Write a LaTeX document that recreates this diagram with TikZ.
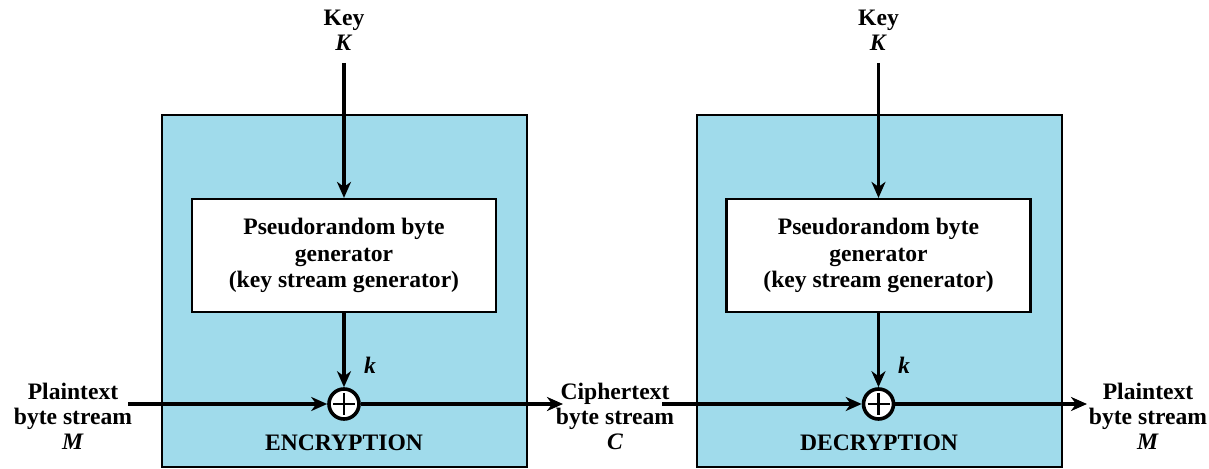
\documentclass[tikz,border=0pt]{standalone}
\usepackage{fontspec}
\setmainfont{Liberation Serif}
\usetikzlibrary{arrows.meta}
\definecolor{boxblue}{HTML}{A0DBEB}
\begin{document}
\begin{tikzpicture}[x=0.5pt,y=-0.5pt,
  lbl/.style={font=\bfseries\fontsize{11.8}{12.5}\selectfont, align=center, inner sep=0pt},
  panel/.style={draw=black, line width=1.1pt, fill=boxblue, minimum width=182.5pt, minimum height=176pt, inner sep=0pt},
  genbox/.style={draw=black, line width=1.1pt, fill=white, minimum width=152pt, minimum height=56.5pt, inner sep=0pt, align=center, font=\bfseries\fontsize{11.8}{13.2}\selectfont},
  flow/.style={line width=1.9pt, -{Stealth[length=8pt,width=7pt,inset=2.5pt]}},
  xorc/.style={circle, draw=black, line width=1.8pt, fill=white, minimum size=15pt, inner sep=0pt},
  plus/.style={line width=1.3pt}]
\useasboundingbox (0,0) rectangle (1209,469);

% panels
\node[panel] (enc) at (344.5,291) {};
\node[panel] (dec) at (879.5,291) {};

% generators
\node[genbox] (gen1) at (344,255.5) {Pseudorandom byte\\generator\\(key stream generator)};
\node[genbox] (gen2) at (878.5,255.5) {Pseudorandom byte\\generator\\(key stream generator)};

% xor circles
\node[xorc] (xor1) at (344,404) {};
\node[xorc] (xor2) at (878.5,404) {};
\foreach \n in {xor1,xor2}{
  \draw[plus] ([yshift=5.5pt]\n.center) -- ([yshift=-5.5pt]\n.center);
  \draw[plus] ([xshift=-5.5pt]\n.center) -- ([xshift=5.5pt]\n.center);
}

% key labels
\node[lbl] (key1) at (344,30) {Key\\\textit{K}};
\node[lbl] (key2) at (878.5,30) {Key\\\textit{K}};
\coordinate (k1s) at (344,63);
\coordinate (k2s) at (878.5,63);
\draw[flow] (k1s) -- (gen1.north);
\draw[flow] (k2s) -- (gen2.north);

% k labels
\node[lbl] (ks1) at (370,365) {\textit{k}};
\node[lbl] (ks2) at (904,365) {\textit{k}};
\draw[flow] (gen1.south) -- (xor1.north);
\draw[flow] (gen2.south) -- (xor2.north);

% stream labels
\node[lbl] (pin) at (73,416) {Plaintext\\byte stream\\\textit{M}};
\node[lbl] (cip) at (615,416) {Ciphertext\\byte stream\\\textit{C}};
\node[lbl] (pout) at (1148,416) {Plaintext\\byte stream\\\textit{M}};

\coordinate (pinE) at (128,404);
\coordinate (cipW) at (563,404);
\coordinate (cipE) at (662,404);
\coordinate (poutW) at (1087,404);
\draw[flow] (pinE) -- (xor1.west);
\draw[flow] (xor1.east) -- (cipW);
\draw[flow] (cipE) -- (xor2.west);
\draw[flow] (xor2.east) -- (poutW);

% panel titles
\node[lbl] (encl) at (344,443) {ENCRYPTION};
\node[lbl] (decl) at (879,443) {DECRYPTION};
\end{tikzpicture}
\end{document}
